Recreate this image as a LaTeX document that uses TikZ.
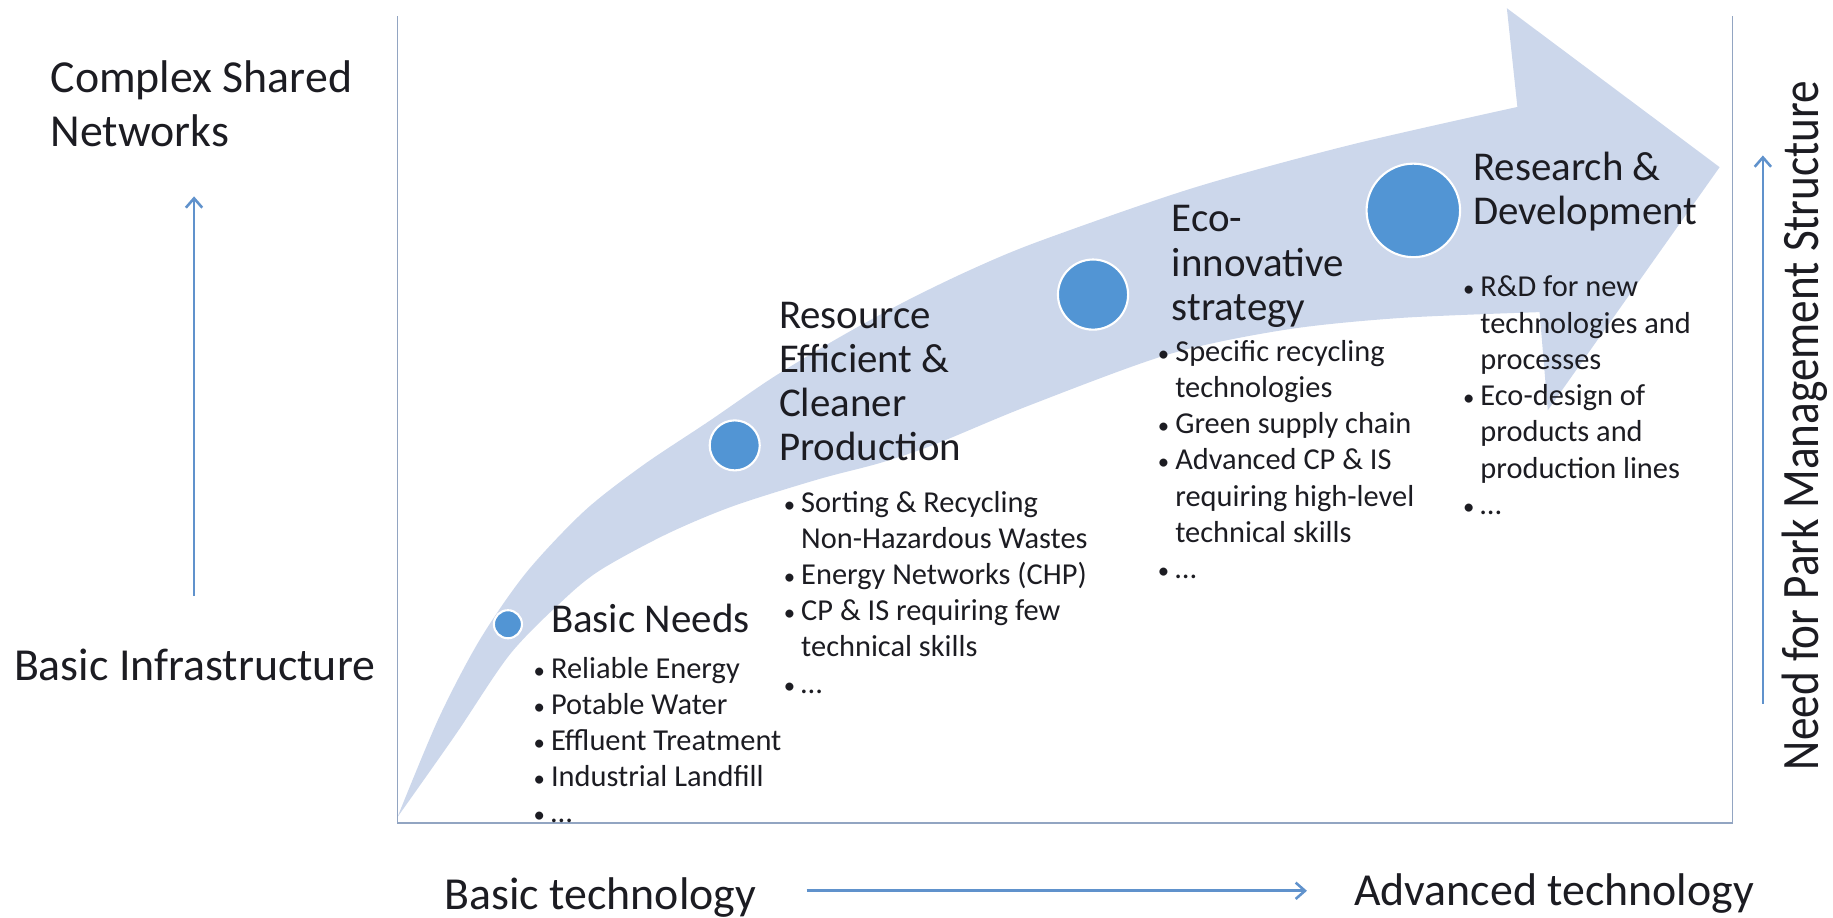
\documentclass[tikz,border=0pt]{standalone}
\usepackage{fontspec}
\setmainfont{Carlito}
\usetikzlibrary{arrows.meta}

\definecolor{band}{RGB}{204,215,235}
\definecolor{dot}{RGB}{82,149,212}
\definecolor{axis}{RGB}{96,146,204}
\definecolor{frame}{RGB}{146,165,194}
\definecolor{ink}{RGB}{28,28,34}

\newcommand{\itm}{\leavevmode\llap{\scalebox{0.75}{\textbullet}\hspace{2.6pt}}}

\begin{document}
\begin{tikzpicture}[x=0.5pt, y=-0.5pt,
  every node/.style={inner sep=0pt, text=ink, align=left},
  lab/.style={font=\fontsize{19.6}{23}\selectfont},
  head/.style={font=\fontsize{17.5}{18.9}\selectfont, anchor=base west},
  items/.style={font=\fontsize{13}{15.5}\selectfont, anchor=base west},
  stage/.style={circle, fill=dot, draw=white, line width=0.9pt},
  arr/.style={draw=axis, line width=1.1pt, -{Straight Barb[length=4pt,width=7pt]}}
]
  \useasboundingbox (0,0) rectangle (1568,785);

  \fill[band] plot[smooth, tension=0.5] coordinates {(340,699) (375,615) (410,548)
      (450,490) (500,437) (550,398) (607,360) (661,323) (719,288) (776,257)
      (832,230) (890,206) (1020,161) (1155,124) (1298,91.5)}
    -- (1289,7) -- (1471,143) -- (1324,351) -- (1317,267)
    -- plot[smooth, tension=0.5] coordinates {(1317,267) (1198,272) (1100,282)
      (1000,303) (880,347) (800,380) (753,396) (700,410) (627,433) (570,457)
      (513,488) (480,515) (436,560) (390,628) (340,699)}
    -- cycle;

  \draw[frame, line width=0.6pt] (340,14) |- (1482,704) -- (1482,14);

  % multi-line nodes sit on the baseline of their last line
  \node[lab, anchor=base west] (nets)  at (43,125)    {Complex Shared\\Networks};
  \node[lab, anchor=base]      (infra) at (166.5,582) {Basic Infrastructure};
  \node[lab, anchor=base west] (basic) at (380,778)   {Basic technology};
  \node[lab, anchor=base west] (adv)   at (1158,775)  {Advanced technology};
  \node[rotate=90, anchor=base] (mgmt) at (1556,364)
       {\scalebox{0.86}[1]{\fontsize{22.5}{26}\selectfont Need for Park Management Structure}};

  \coordinate (infratop) at (166,510);
  \coordinate (netsfoot) at (166,168);
  \coordinate (techfrom) at (690,762);
  \coordinate (techto)   at (1118,762);
  \coordinate (mgmtlow)  at (1508,602);
  \coordinate (mgmthigh) at (1508,133);
  \draw[arr] (infratop) -- (netsfoot);
  \draw[arr] (techfrom) -- (techto);
  \draw[arr] (mgmtlow)  -- (mgmthigh);

  \node[stage, minimum size=12pt] (needs) at (434.5,534) {};
  \node[head]  (needshead) at (471,541) {Basic Needs};
  \node[items] (needslist) at (471,704)
       {\itm Reliable Energy\\\itm Potable Water\\\itm Effluent Treatment\\
        \itm Industrial Landfill\\\itm \dots};

  \node[stage, minimum size=21.4pt] (clean) at (628.5,381) {};
  \node[head]  (cleanhead) at (666,394) {Resource\\Efficient \&\\Cleaner\\Production};
  \node[items] (cleanlist) at (685,593)
       {\itm Sorting \& Recycling\\Non-Hazardous Wastes\\\itm Energy Networks (CHP)\\
        \itm CP \& IS requiring few\\technical skills\\\itm \dots};

  \node[stage, minimum size=30pt] (eco) at (935,252) {};
  \node[head]  (ecohead) at (1002,274) {Eco-\\innovative\\strategy};
  \node[items] (ecolist) at (1005,495)
       {\itm Specific recycling\\technologies\\\itm Green supply chain\\
        \itm Advanced CP \& IS\\requiring high-level\\technical skills\\\itm \dots};

  \node[stage, minimum size=40pt] (rd) at (1209,180) {};
  \node[head]  (rdhead) at (1260,192) {Research \&\\Development};
  \node[items] (rdlist) at (1266,440)
       {\itm R\&D for new\\technologies and\\processes\\\itm Eco-design of\\
        products and\\production lines\\\itm \dots};
\end{tikzpicture}
\end{document}
